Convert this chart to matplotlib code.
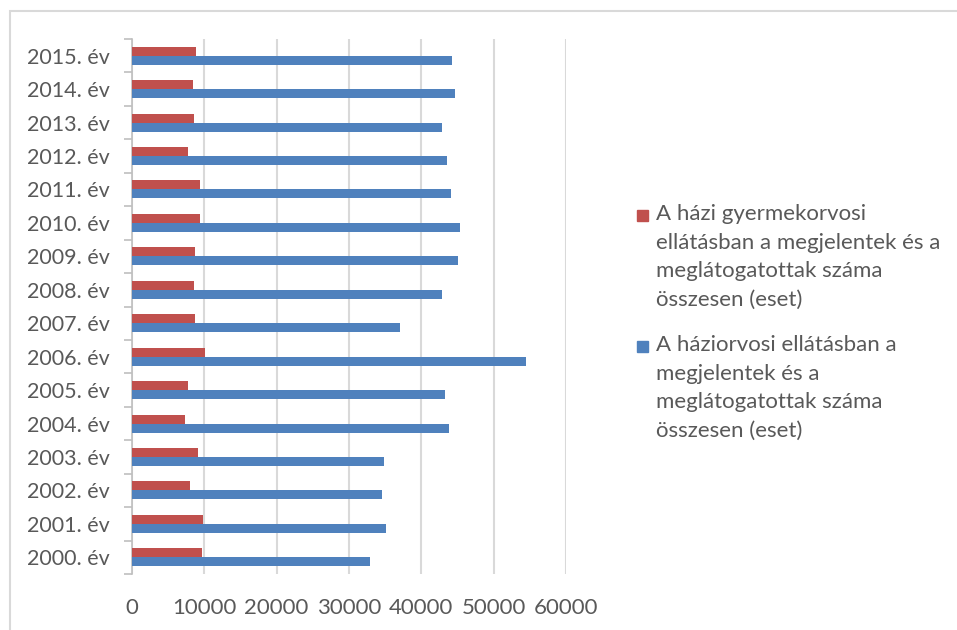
import numpy as np
import matplotlib.pyplot as plt
from matplotlib.patches import Rectangle

years = list(range(2000, 2016))
labels = [f"{y}. év" for y in years]

# házi gyermekorvosi ellátás (piros)
pediatric = [9620, 9800, 8000, 9060, 7300, 7770, 10080, 8650,
             8550, 8650, 9430, 9430, 7720, 8600, 8370, 8830]
# háziorvosi ellátás (kék)
gp = [32870, 35090, 34540, 34810, 43870, 43230, 54460, 37030,
      42860, 45030, 45310, 44060, 43500, 42810, 44660, 44200]

series_labels = ["A házi gyermekorvosi\nellátásban a megjelentek és a\nmeglátogatottak száma\nösszesen (eset)",
                 "A háziorvosi ellátásban a\nmegjelentek és a\nmeglátogatottak száma\nösszesen (eset)"]
colors = ['#c0504d', '#4f81bd']

plt.rcParams['font.family'] = ['Lato', 'DejaVu Sans']
text_color = '#595959'

W, H = 957, 630
fig = plt.figure(figsize=(W / 100, H / 100), dpi=100)
ax = fig.add_axes([132 / W, 1 - 574 / H, 434 / W, 535 / H])

y = np.arange(len(years))
h = 0.27
ax.barh(y + 0.135, pediatric, height=h, color=colors[0], zorder=3)
ax.barh(y - 0.135, gp, height=h, color=colors[1], zorder=3)

ax.set_xlim(0, 60000)
ax.set_ylim(-0.5, len(years) - 0.5)
ax.set_xticks(np.arange(0, 60001, 10000))
ax.set_yticks(y)
ax.set_yticklabels(labels)
ax.set_yticks(np.arange(-0.5, len(years), 1), minor=True)
ax.tick_params(axis='y', which='major', length=0, pad=16, labelsize=15.5, labelcolor=text_color)
ax.tick_params(axis='y', which='minor', length=6, width=1.2, color='#bfbfbf')
ax.tick_params(axis='x', length=0, pad=17, labelsize=16, labelcolor=text_color)
ax.grid(axis='x', color='#d9d9d9', linewidth=1.5, zorder=0)
for s in ['top', 'right', 'bottom']:
    ax.spines[s].set_visible(False)
ax.spines['left'].set_color('#bfbfbf')
ax.spines['left'].set_linewidth(1.2)

# legend drawn by hand so the marker sits on the first line
legend_tops = [204, 335]
for top, lbl, c in zip(legend_tops, series_labels, colors):
    fig.patches.append(Rectangle((637 / W, 1 - (top + 17) / H), 11 / W, 11 / H,
                                 transform=fig.transFigure, color=c))
    fig.text(656 / W, 1 - top / H, lbl, ha='left', va='top', fontsize=16,
             color=text_color, linespacing=1.54)

fig.patches.append(Rectangle((10 / W, -0.1), 1.1, 1 - 11 / H + 0.1, transform=fig.transFigure,
                             fill=False, edgecolor='#d9d9d9', linewidth=1.5))

fig.savefig('out.png', dpi=100)
